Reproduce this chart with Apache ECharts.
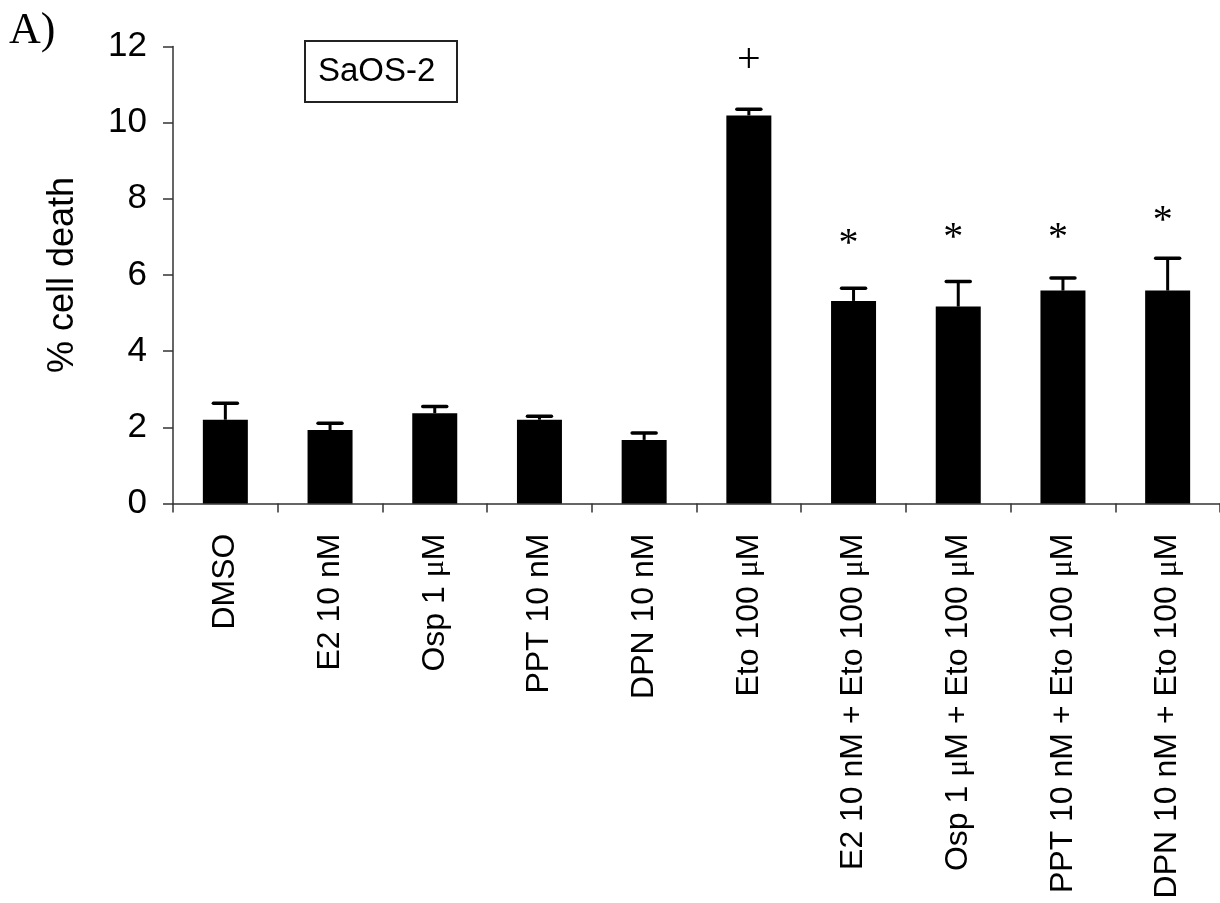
<!DOCTYPE html>
<html>
<head>
<meta charset="utf-8">
<script src="https://cdn.jsdelivr.net/npm/echarts@6/dist/echarts.min.js"></script>
<style>
  html, body { margin: 0; padding: 0; background: #fff; }
  #chart { width: 1220px; height: 903px; }
</style>
</head>
<body>
<div id="chart"></div>
<script>
// ---- data ----
const categories = [
  'DMSO', 'E2 10 nM', 'Osp 1 μM', 'PPT 10 nM', 'DPN 10 nM', 'Eto 100 μM',
  'E2 10 nM + Eto 100 μM', 'Osp 1 μM + Eto 100 μM', 'PPT 10 nM + Eto 100 μM', 'DPN 10 nM + Eto 100 μM'
];
const meanValues = [2.20, 1.93, 2.37, 2.20, 1.67, 10.19, 5.32, 5.17, 5.59, 5.59];
const errorTops  = [2.63, 2.11, 2.55, 2.29, 1.85, 10.35, 5.65, 5.83, 5.92, 6.44];
const markTexts  = ['', '', '', '', '', '+', '*', '*', '*', '*'];
const markValues = [null, null, null, null, null, 11.69, 7.01, 7.17, 7.17, 7.62];
const yMin = 0, yMax = 12, yStep = 2;
const yAxisTitle = '% cell death';
const panelLabel = 'A)';
const cellLine = 'SaOS-2';

const SANS = '"Liberation Sans", Arial, sans-serif';
const SERIF = '"Liberation Serif", "Times New Roman", serif';

const chart = echarts.init(document.getElementById('chart'), null, { renderer: 'canvas' });

const option = {
  animation: false,
  backgroundColor: '#fff',
  grid: { left: 173, top: 46.5, width: 1056, height: 457, containLabel: false },
  xAxis: {
    type: 'category',
    data: categories,
    boundaryGap: true,
    axisLine: { show: true, lineStyle: { color: '#333', width: 1.5 } },
    axisTick: { show: true, inside: false, length: 9, interval: 0, lineStyle: { color: '#333', width: 1.5 } },
    axisLabel: {
      interval: 0,
      rotate: 90,
      margin: 30,
      color: '#000',
      fontFamily: SANS,
      fontSize: 32,
      formatter: v => v.replace(/μ/g, '{mu|μ}'),
      rich: { mu: { fontFamily: SERIF, fontSize: 32, color: '#000' } }
    },
    splitLine: { show: false }
  },
  yAxis: {
    type: 'value',
    min: yMin, max: yMax, interval: yStep,
    name: yAxisTitle,
    nameLocation: 'middle',
    nameRotate: 90,
    nameGap: 92,
    nameTextStyle: { fontFamily: SANS, fontSize: 36, color: '#000' },
    axisLine: { show: true, lineStyle: { color: '#333', width: 1.5 } },
    axisTick: { show: true, inside: false, length: 10, lineStyle: { color: '#333', width: 1.5 } },
    axisLabel: { margin: 26, color: '#000', fontFamily: SANS, fontSize: 35 },
    splitLine: { show: false }
  },
  graphic: [
    {
      type: 'text', left: 9, top: 9,
      style: { text: panelLabel, font: '44px ' + SERIF, fill: '#000' }
    },
    {
      type: 'group', left: 304, top: 40,
      children: [
        { type: 'rect', shape: { x: 0, y: 0, width: 152, height: 61 },
          style: { fill: '#fff', stroke: '#222', lineWidth: 2 } },
        { type: 'text', x: 13, y: 31,
          style: { text: cellLine, font: '33px ' + SANS, fill: '#000', verticalAlign: 'middle', align: 'left' } }
      ]
    }
  ],
  series: [
    {
      type: 'bar',
      data: meanValues,
      barWidth: 45,
      itemStyle: { color: '#000' },
      z: 2
    },
    {
      type: 'custom',
      z: 3,
      data: categories.map((c, i) => [i, meanValues[i], errorTops[i]]),
      renderItem: function (params, api) {
        const i = api.value(0);
        const lo = api.coord([i, api.value(1)]);
        const hi = api.coord([i, api.value(2)]);
        const half = 12;
        return {
          type: 'group',
          children: [
            { type: 'line', shape: { x1: lo[0], y1: lo[1], x2: hi[0], y2: hi[1] },
              style: { stroke: '#000', lineWidth: 3 } },
            { type: 'line', shape: { x1: hi[0] - half, y1: hi[1], x2: hi[0] + half, y2: hi[1] },
              style: { stroke: '#000', lineWidth: 3.5, lineCap: 'round' } }
          ]
        };
      }
    },
    {
      type: 'custom',
      z: 4,
      data: categories.map((c, i) => [i, markValues[i] == null ? 0 : markValues[i], i]),
      renderItem: function (params, api) {
        const i = api.value(2);
        const txt = markTexts[i];
        if (!txt || markValues[i] == null) return null;
        const p = api.coord([api.value(0), api.value(1)]);
        const isStar = txt === '*';
        return {
          type: 'text',
          x: p[0] + (isStar ? -5 : 0),
          y: p[1] + (isStar ? 8 : 3),
          style: {
            text: txt,
            font: (isStar ? '40px ' : '42px ') + SERIF,
            fill: '#000',
            align: 'center',
            verticalAlign: 'middle'
          }
        };
      }
    }
  ]
};

chart.setOption(option);
</script>
</body>
</html>
